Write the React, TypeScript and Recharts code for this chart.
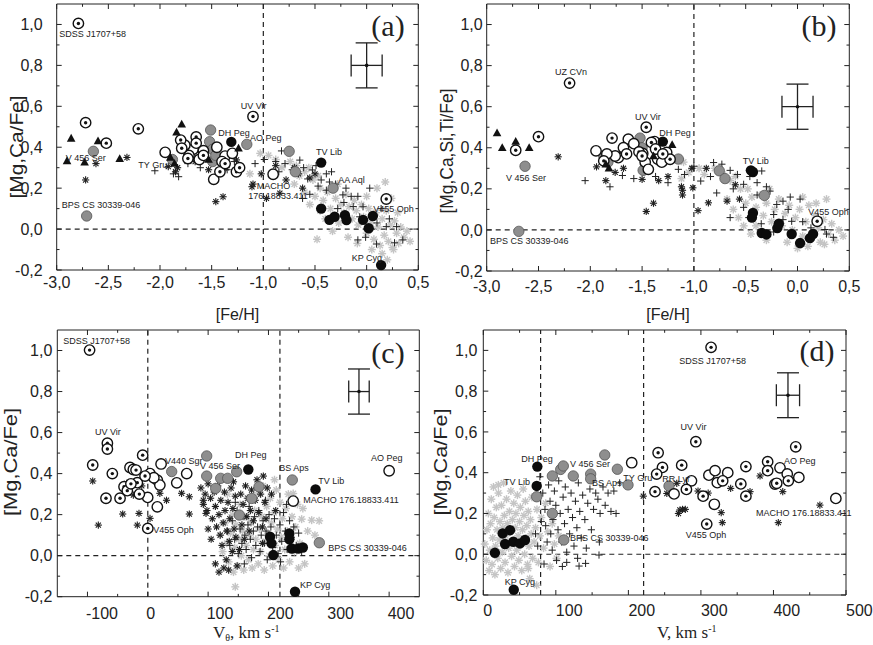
import React from "react";
import { ScatterChart, Scatter, XAxis, YAxis, ReferenceLine, ErrorBar } from "recharts";

type P = [number, number];
type N = [number, number, string];

const sans = "'Liberation Sans', Arial, sans-serif";
const serif = "'Liberation Serif', 'Times New Roman', serif";

// ---------- axis ticks ----------
const fehMajor = [-3, -2.5, -2, -1.5, -1, -0.5, 0, 0.5];
const fehMinor = [-2.75, -2.25, -1.75, -1.25, -0.75, -0.25, 0.25];
const abMajor = [-0.2, 0, 0.2, 0.4, 0.6, 0.8, 1.0];
const abMinor = [-0.1, 0.1, 0.3, 0.5, 0.7, 0.9];
const vthMajor = [-100, 0, 100, 200, 300, 400];
const vthMinor = [-50, 50, 150, 250, 350];
const vMajor = [0, 100, 200, 300, 400, 500];
const vMinor = [50, 150, 250, 350, 450];

// ---------- panel (a): [Mg,Ca/Fe] vs [Fe/H] ----------
const aTriangle: P[] = [[-2.9, 0.333], [-2.86, 0.443], [-2.73, 0.326], [-2.6, 0.43], [-2.39, 0.343], [-1.79, 0.512], [-1.84, 0.473], [-1.86, 0.32], [-1.9, 0.35], [-1.24, 0.395], [-1.53, 0.34]];
const aCircleDot: P[] = [[-2.79, 1.005], [-2.72, 0.52], [-2.21, 0.49], [-2.52, 0.42], [-1.1, 0.55], [0.19, 0.147], [-1.8, 0.435], [-1.65, 0.45], [-1.79, 0.395], [-1.73, 0.345], [-1.42, 0.28], [-1.26, 0.28], [-1.23, 0.3], [-1.37, 0.32], [-1.65, 0.42], [-1.58, 0.36]];
const aOpen: P[] = [[-1.95, 0.375], [-1.68, 0.39], [-1.58, 0.383], [-1.37, 0.357], [-1.48, 0.243], [-0.905, 0.268], [-1.76, 0.41], [-1.72, 0.36], [-1.45, 0.4], [-1.4, 0.33], [-1.62, 0.34], [-1.3, 0.37]];
const aGrey: P[] = [[-2.645, 0.38], [-2.71, 0.064], [-1.88, 0.34], [-1.51, 0.484], [-1.52, 0.427], [-1.49, 0.39], [-1.49, 0.33], [-1.16, 0.414], [-0.75, 0.38], [-0.69, 0.28], [-0.325, 0.2], [-1.46, 0.36]];
const aBlack: P[] = [[-1.31, 0.426], [-0.44, 0.325], [-0.44, 0.1], [-0.36, 0.045], [-0.31, 0.06], [-0.21, 0.068], [-0.195, 0.044], [-0.035, 0.045], [0.02, 0.004], [0.06, 0.064], [0.14, -0.176]];
const aAsterisk: P[] = [[-2.32, 0.35], [-2.62, 0.32], [-2.72, 0.24], [-1.92, 0.305], [-1.85, 0.28], [-1.46, 0.134], [-1.39, 0.158], [-1.11, 0.207], [-1.1, 0.22], [-1.02, 0.27], [-0.97, 0.15], [-1.26, 0.338], [-1.53, 0.29], [-0.84, 0.175], [-1.36, 0.3], [-1.83, 0.3], [-1.66, 0.33], [-0.88, 0.31], [-0.7, 0.3], [-0.55, 0.25], [-0.62, 0.2], [-0.5, 0.27], [-0.78, 0.24], [-0.66, 0.27]];
const aPlus: P[] = [[-2.05, 0.285], [-1.82, 0.256], [-1.73, 0.32], [-1.61, 0.3], [-1.35, 0.29], [-1.28, 0.33], [-1.87, 0.27], [-0.824, 0.382], [-1.08, 0.32], [-0.99, 0.34], [-0.88, 0.33], [-0.79, 0.32], [-0.647, 0.337], [-0.61, 0.3], [-0.525, 0.289], [-0.49, 0.31], [-0.39, 0.27], [-0.34, 0.28], [-0.44, 0.24], [-0.36, 0.23], [-0.47, 0.21], [-0.39, 0.19], [-0.55, 0.17], [-0.23, 0.167], [-0.15, 0.16], [-0.085, 0.16], [0.03, 0.2], [-0.035, 0.109], [-0.13, 0.11], [-0.067, 0.06], [0.19, 0.012], [0.29, 0.012], [-0.085, -0.053], [-0.01, -0.04], [0.095, -0.073], [0.27, -0.067], [0.35, -0.053], [-0.62, 0.15], [-0.85, 0.28], [-0.72, 0.29], [-0.57, 0.245], [-0.3, 0.22], [-0.2, 0.2], [-0.22, 0.13], [0.1, 0.03], [0.22, 0.05], [-0.28, 0.1], [0.14, 0.1]];
const aField: P[] = [[-1.13, 0.27], [-1.03, 0.37], [-0.95, 0.36], [-0.88, 0.34], [-0.82, 0.3], [-0.74, 0.33], [-0.68, 0.31], [-0.6, 0.28], [-0.56, 0.3], [-0.52, 0.24], [-0.47, 0.26], [-0.6, 0.18], [-0.55, 0.12], [-0.5, 0.16], [-0.45, 0.2], [-0.42, 0.14], [-0.38, 0.18], [-0.35, 0.1], [-0.3, 0.15], [-0.28, 0.22], [-0.25, 0.12], [-0.22, 0.08], [-0.2, 0.17], [-0.17, 0.11], [-0.14, 0.05], [-0.12, 0.14], [-0.1, 0.09], [-0.08, 0.02], [-0.05, 0.12], [-0.03, 0.06], [0.0, -0.02], [0.02, 0.1], [0.04, 0.03], [0.07, -0.05], [0.09, 0.08], [0.11, 0.01], [0.13, -0.08], [0.15, 0.05], [0.17, -0.03], [0.19, 0.09], [0.21, -0.06], [0.23, 0.02], [0.25, -0.09], [0.27, 0.04], [0.29, -0.02], [0.31, -0.07], [0.33, 0.01], [0.36, -0.04], [0.39, -0.01], [0.42, -0.06], [0.24, 0.15], [0.18, 0.23], [0.1, 0.2], [-0.4, 0.05], [-0.48, -0.05], [-0.33, -0.01], [-0.27, 0.03], [-0.18, -0.04], [-0.09, -0.07], [0.05, -0.1], [0.15, -0.12], [0.26, -0.1], [-0.45, 0.09], [0.0, 0.16], [0.3, 0.08], [0.2, -0.15], [-0.7, 0.22], [-0.65, 0.26]];
const aNames: N[] = [[-2.975, 0.955, "SDSS J1707+58"], [-1.219, 0.601, "UV Vir"], [-1.436, 0.468, "DH Peg"], [-1.129, 0.447, "AO Peg"], [-2.913, 0.35, "V 456 Ser"], [-2.21, 0.313, "TY Gru"], [-1.064, 0.212, "MACHO"], [-1.145, 0.162, "176.18833.411"], [-0.49, 0.378, "TV Lib"], [-0.274, 0.24, "AA Aql"], [0.065, 0.097, "V455 Oph"], [-2.952, 0.118, "BPS CS 30339-046"], [-0.144, -0.14, "KP Cyg"]];
const aError = [{ x: 0, y: 0.8, ex: 0.15, ey: 0.11 }];

// ---------- panel (b): [Mg,Ca,Si,Ti/Fe] vs [Fe/H] ----------
const bTriangle: P[] = [[-2.9, 0.472], [-2.85, 0.4], [-2.72, 0.43], [-2.59, 0.4], [-1.21, 0.414], [-1.85, 0.32], [-1.82, 0.3], [-1.39, 0.36]];
const bCircleDot: P[] = [[-2.72, 0.388], [-2.5, 0.454], [-2.2, 0.715], [-1.46, 0.5], [-1.79, 0.447], [-1.87, 0.336], [-1.65, 0.37], [-1.53, 0.38], [-1.41, 0.426], [-1.37, 0.394], [-1.23, 0.344], [0.19, 0.042], [-1.5, 0.36], [-1.3, 0.37]];
const bOpen: P[] = [[-1.945, 0.385], [-1.633, 0.442], [-1.68, 0.4], [-1.73, 0.352], [-1.494, 0.372], [-1.263, 0.377], [-1.35, 0.345], [-1.38, 0.43], [-1.76, 0.36], [-1.58, 0.42], [-1.47, 0.33], [-1.31, 0.33], [-1.84, 0.37], [-1.44, 0.295]];
const bGrey: P[] = [[-2.63, 0.31], [-2.69, -0.007], [-1.87, 0.36], [-1.52, 0.447], [-1.49, 0.29], [-1.15, 0.345], [-0.755, 0.288], [-0.7, 0.25], [-0.32, 0.168], [-1.5, 0.4], [-1.83, 0.33]];
const bBlack: P[] = [[-1.3, 0.43], [-0.43, 0.282], [-0.43, 0.083], [-0.44, 0.06], [-0.345, -0.015], [-0.3, -0.022], [-0.195, 0.009], [-0.18, 0.03], [-0.056, -0.02], [0.025, -0.064], [0.12, -0.04], [0.15, -0.02], [-0.45, 0.29]];
const bAsterisk: P[] = [[-2.31, 0.356], [-1.94, 0.307], [-1.85, 0.24], [-1.76, 0.28], [-1.5, 0.246], [-1.34, 0.24], [-1.25, 0.26], [-1.39, 0.13], [-1.46, 0.09], [-1.11, 0.193], [-1.11, 0.17], [-1.01, 0.205], [-0.96, 0.094], [-0.86, 0.132], [-0.68, 0.14], [-1.12, 0.21], [-1.68, 0.3], [-1.02, 0.3], [-0.88, 0.3], [-0.56, 0.15], [-0.6, 0.22]];
const bPlus: P[] = [[-2.05, 0.24], [-1.81, 0.21], [-1.69, 0.265], [-1.25, 0.23], [-1.58, 0.25], [-1.37, 0.26], [-1.15, 0.295], [-1.09, 0.27], [-0.934, 0.238], [-0.84, 0.26], [-0.81, 0.328], [-0.73, 0.32], [-0.65, 0.29], [-0.58, 0.27], [-0.52, 0.222], [-0.46, 0.26], [-0.39, 0.23], [-0.345, 0.287], [-0.265, 0.189], [-0.39, 0.17], [-0.52, 0.11], [-0.2, 0.124], [-0.14, 0.14], [-0.07, 0.16], [0.025, 0.15], [-0.09, 0.1], [-0.23, 0.075], [-0.14, 0.05], [-0.056, 0.042], [0.05, 0.04], [0.265, 0.002], [0.346, -0.036], [0.28, -0.02], [-1.0, 0.31], [-0.78, 0.18], [-0.65, 0.06], [-0.47, 0.06], [-0.35, 0.03], [-0.23, -0.01], [0.13, 0.01], [0.2, 0.06], [-0.62, 0.2], [-0.3, 0.21]];
const bField: P[] = [[-1.1, 0.33], [-1.05, 0.28], [-1.12, 0.25], [-0.95, 0.3], [-0.9, 0.27], [-0.8, 0.3], [-0.72, 0.27], [-0.65, 0.24], [-0.6, 0.26], [-0.55, 0.2], [-0.68, 0.15], [-0.62, 0.1], [-0.57, 0.06], [-0.5, 0.13], [-0.48, 0.2], [-0.44, 0.16], [-0.4, 0.11], [-0.36, 0.17], [-0.33, 0.07], [-0.3, 0.13], [-0.27, 0.2], [-0.25, 0.04], [-0.22, 0.1], [-0.18, 0.15], [-0.15, 0.02], [-0.12, 0.08], [-0.08, 0.12], [-0.05, 0.0], [-0.02, 0.06], [0.02, 0.1], [0.05, -0.03], [0.08, 0.04], [0.11, 0.12], [0.14, -0.02], [0.17, 0.07], [0.2, 0.01], [0.22, -0.06], [0.25, 0.05], [0.28, 0.15], [0.3, -0.02], [0.33, 0.03], [0.36, -0.05], [0.4, 0.0], [0.44, -0.03], [-0.4, 0.02], [-0.3, -0.05], [-0.1, -0.06], [0.0, -0.09], [0.1, -0.08], [0.26, -0.07], [-0.52, 0.02], [-0.45, -0.02], [0.05, 0.16], [0.18, 0.13]];
const bNames: N[] = [[-2.34, 0.768, "UZ CVn"], [-1.569, 0.551, "UV Vir"], [-1.334, 0.475, "DH Peg"], [-2.814, 0.254, "V 456 Ser"], [-2.968, -0.052, "BPS CS 30339-046"], [-0.529, 0.336, "TV Lib"], [0.104, 0.088, "V455 Oph"]];
const bError = [{ x: 0, y: 0.6, ex: 0.15, ey: 0.11 }];

// ---------- panel (c): [Mg,Ca/Fe] vs V_theta ----------
const cCircleDot: P[] = [[-96.5, 1.002], [-67, 0.548], [-67, 0.52], [-91.3, 0.442], [-58.8, 0.4], [-69.3, 0.28], [-8.5, 0.49], [-29.5, 0.43], [-24, 0.42], [-46, 0.28], [-39.4, 0.336], [-34, 0.317], [-17.4, 0.356], [-14, 0.3], [-4.6, 0.388], [0, 0.133], [-19.5, 0.417], [-28, 0.35]];
const cOpen: P[] = [[3.7, 0.4], [15.8, 0.368], [20, 0.344], [-0.2, 0.284], [15.8, 0.238], [48, 0.355], [64.5, 0.4], [22, 0.447], [241, 0.266], [400, 0.414], [10, 0.38]];
const cGrey: P[] = [[39.6, 0.41], [97.6, 0.486], [97.6, 0.388], [112.5, 0.328], [120.8, 0.377], [132.4, 0.377], [147.3, 0.409], [184.3, 0.336], [172.2, 0.279], [151.7, 0.198], [239.5, 0.369], [284.3, 0.063]];
const cBlack: P[] = [[166.6, 0.42], [278, 0.323], [202.6, 0.092], [205, 0.06], [208, 0.003], [234.6, 0.108], [234.6, 0.08], [238.5, 0.035], [249.5, 0.035], [257, 0.04], [244, -0.176]];
const cAsterisk: P[] = [[-91.3, 0.364], [-82, 0.149], [-41.6, 0.203], [-14.6, 0.206], [-17.4, 0.149], [3.7, 0.182], [20, 0.304], [31, 0.27], [56, 0.304], [68.8, 0.287], [68.8, 0.203], [92, 0.27], [96.5, 0.206], [-10, 0.34], [-24, 0.295], [-35, 0.352], [191.5, 0.388], [88, 0.33], [92, 0.25], [95, 0.3], [98, 0.22], [100, 0.35], [104, 0.28], [107, 0.18], [110, 0.31], [112, 0.24], [114, 0.14], [116, 0.34], [118, 0.2], [120, 0.1], [121, 0.27], [123, 0.05], [125, 0.16], [127, 0.31], [128, 0.22], [130, -0.02], [131, 0.12], [133, 0.26], [135, 0.07], [136, 0.18], [138, 0.33], [140, 0.02], [141, 0.23], [143, 0.13], [145, 0.29], [146, 0.09], [148, -0.05], [150, 0.2], [152, 0.03], [154, 0.3], [156, 0.15], [158, 0.25], [160, 0.08], [162, 0.34], [164, 0.19], [166, 0.28], [168, 0.12], [170, 0.22], [172, 0.32], [175, 0.17], [178, 0.27], [181, 0.37], [184, 0.21], [187, 0.3], [190, 0.14], [194, 0.26], [198, 0.33], [126, -0.06], [118, -0.08], [112, -0.04], [134, -0.07], [105, 0.08], [100, 0.13], [142, 0.36], [190, 0.06], [196, 0.18], [205, 0.3], [212, 0.22]];
const cPlus: P[] = [[132, 0.12], [136, 0.05], [140, 0.17], [144, 0.08], [148, 0.22], [150, 0.01], [153, 0.13], [156, 0.06], [158, 0.19], [161, 0.1], [163, 0.03], [166, 0.15], [168, 0.24], [170, 0.08], [172, -0.01], [175, 0.12], [177, 0.19], [179, 0.05], [182, 0.14], [184, 0.22], [186, 0.02], [188, 0.1], [191, 0.17], [193, 0.06], [196, 0.12], [198, -0.02], [201, 0.2], [204, 0.14], [207, 0.04], [210, 0.18], [213, 0.1], [216, 0.01], [219, 0.15], [222, 0.07], [225, 0.21], [228, 0.12], [231, 0.03], [235, 0.17], [238, 0.09], [242, 0.14], [246, 0.05], [250, 0.11], [255, 0.02], [220, -0.03], [160, -0.04], [145, 0.26], [195, 0.27], [230, 0.25]];
const cField: P[] = [[120, 0.1], [124, 0.02], [128, 0.16], [131, 0.06], [134, -0.03], [137, 0.11], [140, 0.2], [142, -0.08], [144, 0.04], [146, 0.15], [149, -0.05], [151, 0.08], [153, 0.25], [155, 0.0], [157, 0.12], [159, -0.07], [161, 0.19], [163, 0.05], [165, 0.28], [167, -0.02], [169, 0.1], [171, 0.16], [173, -0.06], [175, 0.03], [177, 0.22], [179, 0.08], [181, 0.3], [183, -0.04], [185, 0.13], [187, 0.02], [189, 0.19], [191, 0.34], [193, -0.07], [195, 0.07], [197, 0.24], [199, 0.11], [201, 0.0], [203, 0.28], [205, 0.16], [207, -0.05], [209, 0.21], [211, 0.05], [213, 0.32], [215, 0.13], [217, -0.02], [219, 0.26], [221, 0.09], [223, 0.18], [225, -0.06], [227, 0.03], [229, 0.23], [231, 0.12], [233, 0.3], [235, -0.03], [237, 0.08], [239, 0.19], [241, 0.303], [243, 0.02], [245, 0.14], [248, 0.25], [252, 0.06], [255, 0.178], [257, 0.23], [260, -0.04], [265, 0.12], [271.6, 0.173], [277, 0.1], [284, 0.17], [145, -0.152], [132, 0.3], [210, 0.37], [250, -0.06]];
const cNames: N[] = [[-140, 1.048, "SDSS J1707+58"], [-87.5, 0.604, "UV Vir"], [28.5, 0.463, "V440 Sgr"], [86.5, 0.437, "V 456 Ser"], [144.5, 0.49, "DH Peg"], [218, 0.426, "BS Aps"], [282.6, 0.365, "TV Lib"], [257.8, 0.271, "MACHO 176.18833.411"], [370, 0.479, "AO Peg"], [9.1, 0.125, "V455 Oph"], [299, 0.036, "BPS CS 30339-046"], [252.3, -0.14, "KP Cyg"]];
const cError = [{ x: 350, y: 0.8, ex: 17, ey: 0.11 }];

// ---------- panel (d): [Mg,Ca/Fe] vs V ----------
const dCircleDot: P[] = [[314, 1.015], [293, 0.552], [241, 0.498], [247, 0.426], [273.5, 0.437], [239, 0.393], [236.7, 0.307], [280, 0.318], [303, 0.285], [308, 0.148], [330, 0.36], [355, 0.345], [362, 0.43], [362, 0.285], [392, 0.454], [392, 0.41], [404.5, 0.348], [420.5, 0.36], [430.7, 0.527]];
const dOpen: P[] = [[204.6, 0.449], [287, 0.36], [311, 0.388], [319.5, 0.41], [322.6, 0.351], [337, 0.4], [263, 0.296], [318.5, 0.245], [409, 0.424], [419, 0.394], [435, 0.377], [402, 0.344], [486, 0.274]];
const dGrey: P[] = [[73.6, 0.282], [95.2, 0.384], [106.7, 0.416], [110.3, 0.433], [124, 0.384], [148, 0.393], [148, 0.37], [167.4, 0.487], [184.8, 0.417], [199.5, 0.34], [256, 0.335], [95.2, 0.2], [111, 0.07]];
const dBlack: P[] = [[74.5, 0.43], [73.6, 0.335], [26.7, 0.102], [36.8, 0.118], [30, 0.05], [41.4, 0.061], [50.6, 0.053], [57.5, 0.07], [16, 0.007], [42, -0.174]];
const dAsterisk: P[] = [[220.6, 0.285], [253, 0.298], [266.7, 0.348], [288, 0.364], [271, 0.217], [274.6, 0.22], [278.5, 0.22], [328, 0.204], [329.5, 0.155], [296, 0.31], [341, 0.323], [381.5, 0.384], [367.7, 0.307], [406.7, 0.155], [412.8, 0.307], [464, 0.241], [269, 0.2], [310, 0.3]];
const dPlus: P[] = [[78, 0.38], [82, 0.3], [85, 0.22], [86, 0.14], [88, 0.06], [90, 0.34], [92, 0.26], [93, 0.1], [95, 0.02], [96, 0.17], [98, 0.31], [100, 0.24], [101, -0.03], [103, 0.12], [104, 0.36], [106, 0.2], [108, 0.06], [110, 0.28], [112, 0.15], [113, 0.33], [115, 0.01], [117, 0.22], [119, 0.1], [121, 0.3], [123, 0.18], [125, 0.04], [127, 0.26], [129, 0.13], [131, 0.35], [133, 0.21], [135, 0.08], [137, 0.29], [140, 0.17], [142, 0.03], [144, 0.25], [147, 0.32], [149, 0.12], [152, 0.22], [155, 0.3], [158, 0.27], [161, 0.2], [165, 0.33], [168, 0.24], [172, 0.3], [176, 0.21], [180, 0.31], [183, 0.2], [188, 0.35], [159.5, -0.004], [141, -0.045], [132, -0.058], [109, -0.06], [83.7, -0.048], [130, -0.02], [160, 0.06], [80, 0.16], [72, 0.1], [75, 0.04], [115, -0.04]];
const dField: P[] = [[2, 0.05], [4, -0.03], [5, 0.12], [7, 0.2], [8, -0.08], [9, 0.02], [10, 0.15], [11, 0.27], [12, -0.05], [13, 0.08], [14, 0.33], [15, 0.18], [16, -0.1], [17, 0.04], [18, 0.23], [19, 0.12], [20, -0.02], [21, 0.3], [22, 0.07], [23, 0.16], [24, -0.07], [25, 0.24], [26, 0.01], [27, 0.13], [28, 0.35], [29, 0.19], [30, -0.04], [31, 0.09], [32, 0.27], [33, 0.15], [34, -0.09], [35, 0.03], [36, 0.21], [37, 0.11], [38, 0.31], [39, -0.01], [40, 0.17], [41, 0.06], [42, 0.25], [43, -0.06], [44, 0.13], [45, 0.2], [46, 0.02], [47, 0.29], [48, 0.09], [49, -0.03], [50, 0.16], [51, 0.23], [52, 0.05], [53, -0.08], [54, 0.12], [55, 0.32], [56, 0.19], [57, 0.0], [58, 0.26], [59, 0.08], [60, 0.14], [61, -0.05], [62, 0.21], [63, 0.04], [64, -0.12], [65, 0.17], [66, 0.1], [67, 0.28], [68, -0.02], [70, 0.06], [72, 0.13], [74, 0.22], [76, -0.04], [78, 0.09], [80, 0.18], [83, 0.03], [86, 0.25], [89, 0.11], [92, -0.06], [95, 0.15], [98, 0.05], [101, -0.02], [104, 0.09], [62, -0.07], [73.6, -0.152], [20.7, 0.34]];
const dNames: N[] = [[270.2, 0.949, "SDSS J1707+58"], [272, 0.623, "UV Vir"], [414.6, 0.459, "AO Peg"], [52.4, 0.467, "DH Peg"], [28.5, 0.356, "TV Lib"], [119.5, 0.441, "V 456 Ser"], [150, 0.35, "BS Aps"], [193, 0.377, "TY Gru"], [246.8, 0.372, "RR Lyr"], [119.5, 0.078, "BPS CS 30339-046"], [279, 0.094, "V455 Oph"], [376, 0.204, "MACHO 176.18833.411"], [29.5, -0.135, "KP Cyg"]];
const dError = [{ x: 420, y: 0.78, ex: 16, ey: 0.11 }];

// ---------- helpers ----------
const pts = (a: P[]) => a.map(([x, y]) => ({ x, y }));
const named = (a: N[]) => a.map(([x, y, name]) => ({ x, y, name }));
const comma = (v: number) => v.toFixed(1).replace(".", ",");
const plain = (v: number) => String(v);

function Aster({ cx, cy, r, color, w }: any) {
  const d = r * 0.71;
  return (
    <g stroke={color} strokeWidth={w}>
      <line x1={cx - r} y1={cy} x2={cx + r} y2={cy} />
      <line x1={cx} y1={cy - r} x2={cx} y2={cy + r} />
      <line x1={cx - d} y1={cy - d} x2={cx + d} y2={cy + d} />
      <line x1={cx - d} y1={cy + d} x2={cx + d} y2={cy - d} />
    </g>
  );
}

const fieldShape = (p: any) => <Aster cx={p.cx} cy={p.cy} r={4} color="#c4c4c4" w={1.4} />;
const starShape = (p: any) => <Aster cx={p.cx} cy={p.cy} r={3.6} color="#1e1e1e" w={1.1} />;
const plusShape = (p: any) => (
  <g stroke="#222" strokeWidth={1}>
    <line x1={p.cx - 3.6} y1={p.cy} x2={p.cx + 3.6} y2={p.cy} />
    <line x1={p.cx} y1={p.cy - 3.6} x2={p.cx} y2={p.cy + 3.6} />
  </g>
);
const triShape = (p: any) => (
  <polygon points={`${p.cx},${p.cy - 4.6} ${p.cx - 4.3},${p.cy + 3.2} ${p.cx + 4.3},${p.cy + 3.2}`} fill="#111" />
);
const greyShape = (p: any) => <circle cx={p.cx} cy={p.cy} r={5.2} fill="#8e8e8e" stroke="#555" strokeWidth={0.8} />;
const openShape = (p: any) => <circle cx={p.cx} cy={p.cy} r={5.2} fill="#fff" stroke="#111" strokeWidth={1.4} />;
const dotShape = (p: any) => (
  <g>
    <circle cx={p.cx} cy={p.cy} r={5.2} fill="#fff" stroke="#111" strokeWidth={1.4} />
    <circle cx={p.cx} cy={p.cy} r={1.7} fill="#111" />
  </g>
);
const blackShape = (p: any) => <circle cx={p.cx} cy={p.cy} r={5.2} fill="#0c0c0c" />;
const nameShape = (p: any) => (
  <text x={p.cx} y={p.cy} dy="0.35em" fontSize={9} fontFamily={sans} fill="#222">
    {p.payload.name}
  </text>
);
const errShape = (p: any) => <circle cx={p.cx} cy={p.cy} r={1.8} fill="#111" />;
const noShape = () => <g />;

function axisTick(side: string, majors: number[], gap: number, fmt?: (v: number) => string, dx = 0, anchor = "middle") {
  return (props: any) => {
    const { x, y, payload } = props;
    const v = payload.value;
    const major = majors.some((m) => Math.abs(m - v) < 1e-9);
    const len = major ? 5 : 2.8;
    const txt = { fontSize: 16, fontFamily: sans, fill: "#222" };
    if (side === "bottom") {
      const ay = y - gap;
      return (
        <g>
          <line x1={x} x2={x} y1={ay} y2={ay - len} stroke="#222" />
          {major && fmt ? <text x={x + dx} y={y} dy="0.71em" textAnchor={anchor} {...txt}>{fmt(v)}</text> : null}
        </g>
      );
    }
    if (side === "left") {
      const ax = x + gap;
      return (
        <g>
          <line x1={ax} x2={ax + len} y1={y} y2={y} stroke="#222" />
          {major && fmt ? <text x={x} y={y} dy="0.35em" textAnchor="end" {...txt}>{fmt(v)}</text> : null}
        </g>
      );
    }
    if (side === "top") return <line x1={x} x2={x} y1={y} y2={y + len} stroke="#222" />;
    return <line x1={x} x2={x - len} y1={y} y2={y} stroke="#222" />;
  };
}

type Cfg = {
  left: number; top: number; w: number; h: number;
  box: { l: number; t: number; r: number; b: number };
  xDomain: [number, number]; xMajor: number[]; xMinor: number[]; xFmt: (v: number) => string;
  xGap: number; yGap: number; xDx: number; xAnchor: string;
  vLines: number[];
  tri: P[]; dot: P[]; open: P[]; grey: P[]; black: P[]; star: P[]; plus: P[]; field: P[]; names: N[]; err: any[];
};

function Panel({ c }: { c: Cfg }) {
  const xt = [...c.xMajor, ...c.xMinor].sort((p, q) => p - q);
  const yt = [...abMajor, ...abMinor].sort((p, q) => p - q);
  const dash = { stroke: "#222", strokeWidth: 1.2, strokeDasharray: "5 4" };
  // top axis and right axis take 1px each so that they are drawn (a 0-size axis is skipped)
  return (
    <div style={{ position: "absolute", left: c.left, top: c.top }}>
      <ScatterChart width={c.w} height={c.h} margin={{ top: c.box.t - 1, right: c.w - c.box.r - 1, bottom: 0, left: 0 }}>
        <XAxis type="number" dataKey="x" domain={c.xDomain} ticks={xt} interval={0} height={c.h - c.box.b}
          tickLine={false} tickSize={0} tickMargin={c.xGap} stroke="#222"
          tick={axisTick("bottom", c.xMajor, c.xGap, c.xFmt, c.xDx, c.xAnchor)} />
        <XAxis xAxisId="top" orientation="top" type="number" dataKey="x" domain={c.xDomain} ticks={xt} interval={0} height={1}
          tickLine={false} tickSize={0} tickMargin={0} stroke="#222" tick={axisTick("top", c.xMajor, 0)} />
        <YAxis type="number" dataKey="y" domain={[-0.2, 1.1]} ticks={yt} interval={0} width={c.box.l}
          tickLine={false} tickSize={0} tickMargin={c.yGap} stroke="#222"
          tick={axisTick("left", abMajor, c.yGap, comma)} />
        <YAxis yAxisId="right" orientation="right" type="number" dataKey="y" domain={[-0.2, 1.1]} ticks={yt} interval={0} width={1}
          tickLine={false} tickSize={0} tickMargin={0} stroke="#222" tick={axisTick("right", abMajor, 0)} />
        {c.vLines.map((v) => <ReferenceLine key={v} x={v} {...dash} />)}
        <ReferenceLine y={0} {...dash} />
        <Scatter xAxisId="top" yAxisId="right" data={c.err} shape={noShape} isAnimationActive={false} />
        <Scatter data={pts(c.field)} shape={fieldShape} isAnimationActive={false} />
        <Scatter data={pts(c.plus)} shape={plusShape} isAnimationActive={false} />
        <Scatter data={pts(c.star)} shape={starShape} isAnimationActive={false} />
        <Scatter data={pts(c.grey)} shape={greyShape} isAnimationActive={false} />
        <Scatter data={pts(c.open)} shape={openShape} isAnimationActive={false} />
        <Scatter data={pts(c.dot)} shape={dotShape} isAnimationActive={false} />
        <Scatter data={pts(c.black)} shape={blackShape} isAnimationActive={false} />
        <Scatter data={pts(c.tri)} shape={triShape} isAnimationActive={false} />
        <Scatter data={named(c.names)} shape={nameShape} isAnimationActive={false} />
        <Scatter data={c.err} shape={errShape} isAnimationActive={false}>
          <ErrorBar dataKey="ex" direction="x" width={11} stroke="#222" strokeWidth={1.3} isAnimationActive={false} />
          <ErrorBar dataKey="ey" direction="y" width={11} stroke="#222" strokeWidth={1.3} isAnimationActive={false} />
        </Scatter>
      </ScatterChart>
    </div>
  );
}

const panels: Cfg[] = [
  {
    left: 0, top: 0, w: 430, h: 320, box: { l: 56.7, t: 4, r: 418.3, b: 270 },
    xDomain: [-3, 0.5], xMajor: fehMajor, xMinor: fehMinor, xFmt: comma, xGap: 6.7, yGap: 14, xDx: 0, xAnchor: "middle",
    vLines: [-1], tri: aTriangle, dot: aCircleDot, open: aOpen, grey: aGrey, black: aBlack, star: aAsterisk, plus: aPlus, field: aField, names: aNames, err: aError,
  },
  {
    left: 430, top: 0, w: 443, h: 320, box: { l: 56.7, t: 4, r: 419.3, b: 271 },
    xDomain: [-3, 0.5], xMajor: fehMajor, xMinor: fehMinor, xFmt: comma, xGap: 9.7, yGap: 4, xDx: 0, xAnchor: "middle",
    vLines: [-1], tri: bTriangle, dot: bCircleDot, open: bOpen, grey: bGrey, black: bBlack, star: bAsterisk, plus: bPlus, field: bField, names: bNames, err: bError,
  },
  {
    left: 0, top: 320, w: 430, h: 325, box: { l: 57.3, t: 10, r: 419.3, b: 276.7 },
    xDomain: [-150, 450], xMajor: vthMajor, xMinor: vthMinor, xFmt: plain, xGap: 11, yGap: 5, xDx: -1.5, xAnchor: "start",
    vLines: [0, 219], tri: [], dot: cCircleDot, open: cOpen, grey: cGrey, black: cBlack, star: cAsterisk, plus: cPlus, field: cField, names: cNames, err: cError,
  },
  {
    left: 430, top: 320, w: 443, h: 325, box: { l: 53.3, t: 10, r: 416, b: 275 },
    xDomain: [0, 500], xMajor: vMajor, xMinor: vMinor, xFmt: plain, xGap: 10, yGap: 6, xDx: 0, xAnchor: "start",
    vLines: [79, 221], tri: [], dot: dCircleDot, open: dOpen, grey: dGrey, black: dBlack, star: dAsterisk, plus: dPlus, field: dField, names: dNames, err: dError,
  },
];

export default function App() {
  const yl = { fontSize: 19, fontFamily: sans, fill: "#222", textAnchor: "middle" as const, dominantBaseline: "central" as const, lengthAdjust: "spacingAndGlyphs" as const };
  const letter = { fontSize: 30, fontFamily: serif, fill: "#222", textAnchor: "middle" as const, dominantBaseline: "central" as const };
  return (
    <div style={{ position: "absolute", left: 0, top: 0, width: 873, height: 645, background: "#fff", overflow: "hidden" }}>
      {panels.map((c, i) => <Panel key={i} c={c} />)}
      <svg width={873} height={645} style={{ position: "absolute", left: 0, top: 0, pointerEvents: "none" }}>
        <text x={16} y={147} transform="rotate(-90 16 147)" textLength={103} {...yl}>[Mg,Ca/Fe]</text>
        <text x={446} y={151} transform="rotate(-90 446 151)" textLength={125} {...yl}>[Mg,Ca,Si,Ti/Fe]</text>
        <text x={10} y={462} transform="rotate(-90 10 462)" textLength={108} {...yl}>[Mg,Ca/Fe]</text>
        <text x={440} y={462} transform="rotate(-90 440 462)" textLength={107} {...yl}>[Mg,Ca/Fe]</text>
        <text x={237.5} y={314} fontSize={16} fontFamily={sans} fill="#222" textAnchor="middle" dominantBaseline="central">[Fe/H]</text>
        <text x={668} y={314} fontSize={16} fontFamily={sans} fill="#222" textAnchor="middle" dominantBaseline="central">[Fe/H]</text>
        <text x={213} y={638} fontSize={17} fontFamily={serif} fill="#222">
          V<tspan fontSize={10} dy={3}>θ</tspan><tspan dy={-3}>, km s</tspan><tspan fontSize={10} dy={-6}>-1</tspan>
        </text>
        <text x={657} y={638} fontSize={17} fontFamily={serif} fill="#222">
          V,  km s<tspan fontSize={10} dy={-6}>-1</tspan>
        </text>
        <text x={388} y={25} {...letter}>(a)</text>
        <text x={819} y={25} {...letter}>(b)</text>
        <text x={388} y={352} {...letter}>(c)</text>
        <text x={817} y={350} {...letter}>(d)</text>
      </svg>
    </div>
  );
}
